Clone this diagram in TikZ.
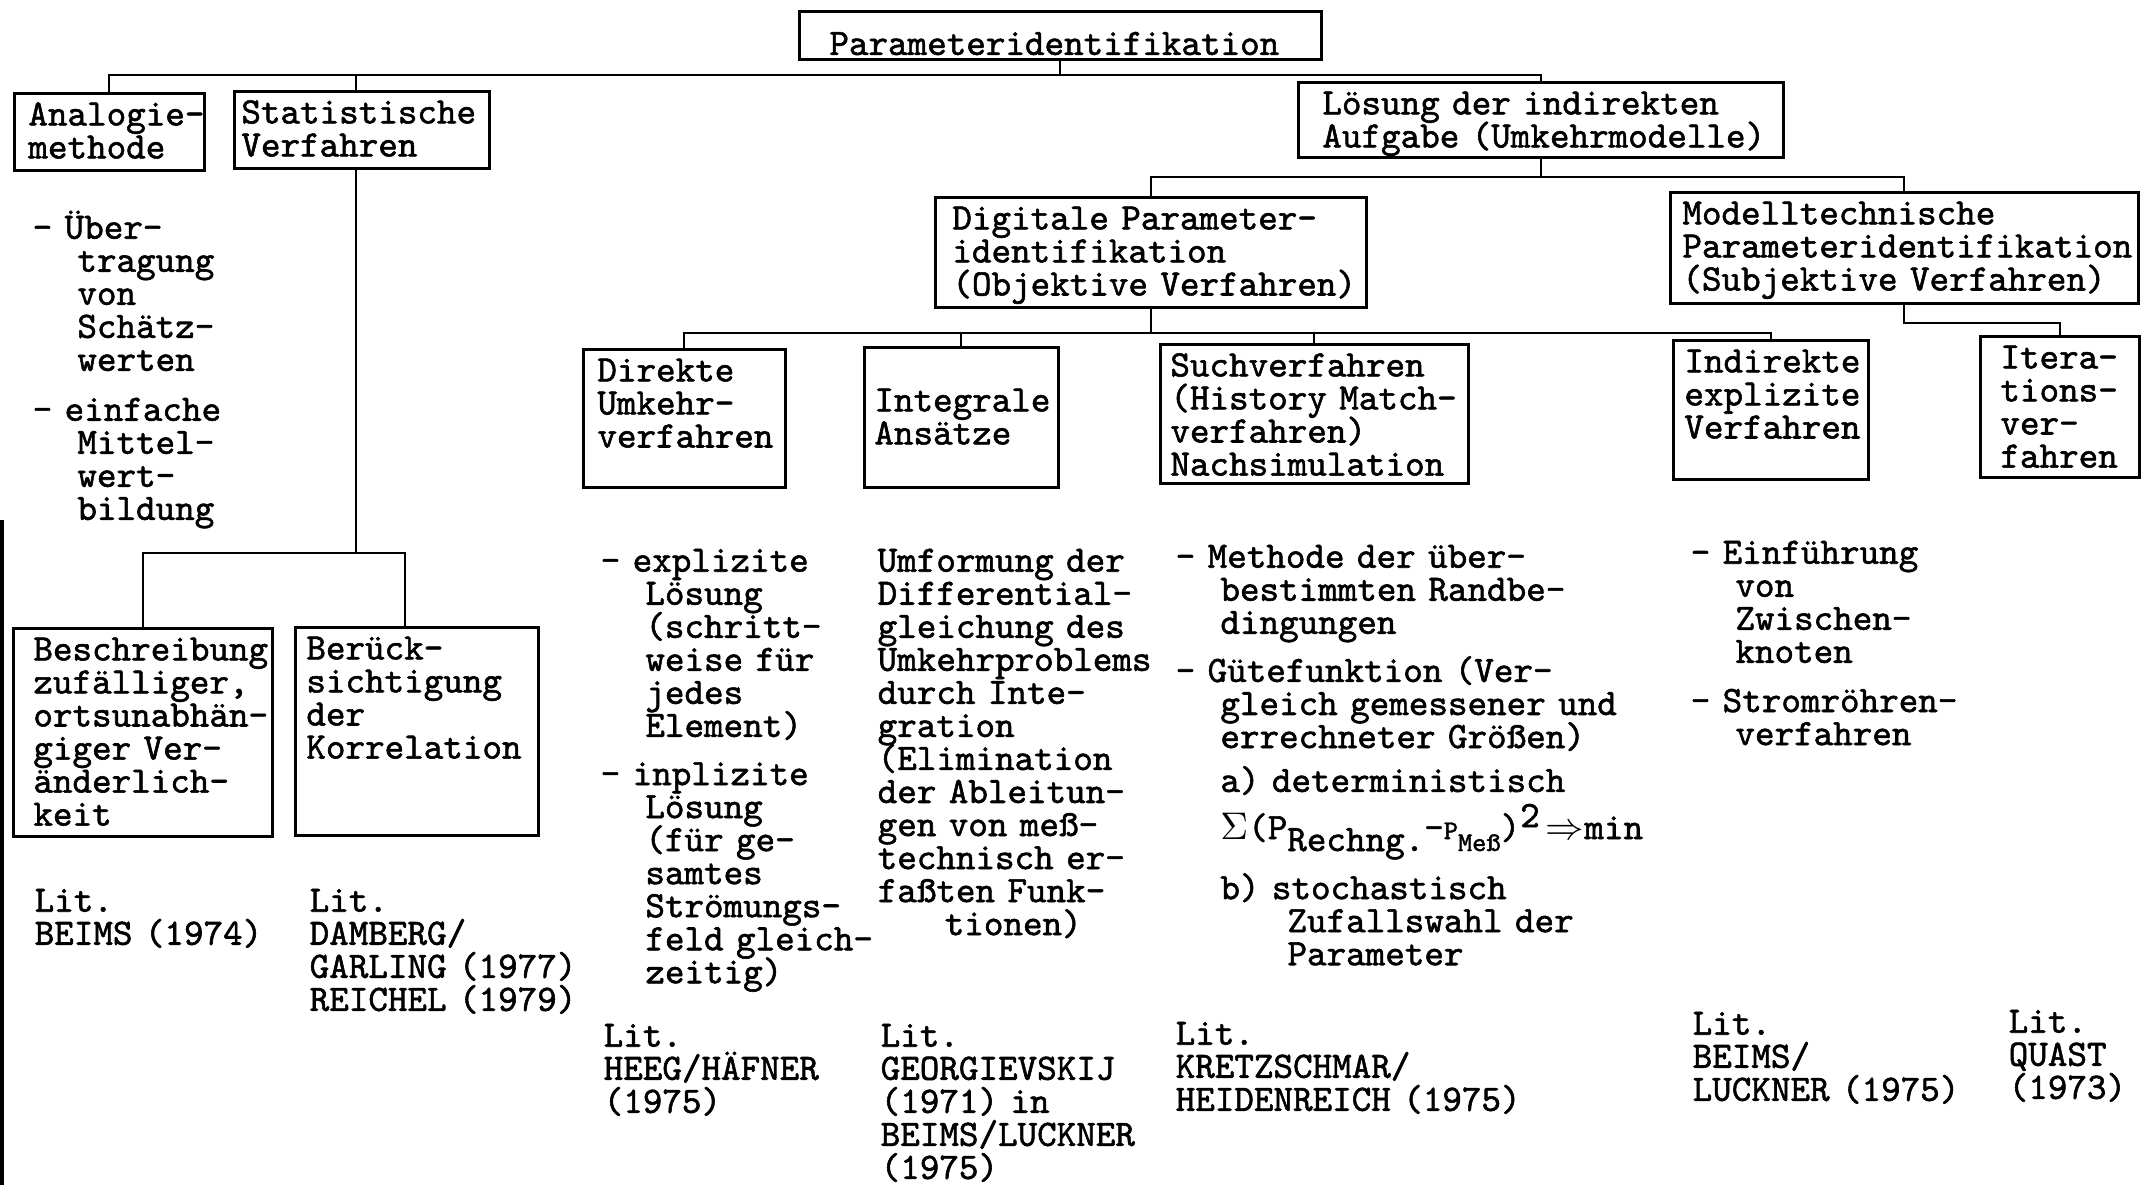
\documentclass[tikz,border=0pt]{standalone}
\usepackage{fontspec}
\usepackage{tikz}
\newfontfamily\tw{lmmono10-regular.otf}[FakeBold=1.5,HyphenChar=None]
\newcommand{\typew}{\tw\fontsize{10.6pt}{9.4pt}\selectfont\lineskiplimit=-20pt\relax}
\newcommand{\subsz}{\fontsize{7.7pt}{7.7pt}\selectfont}
\newcommand{\indt}[1][1.2em]{\hspace*{#1}}
\hyphenpenalty=10000
\exhyphenpenalty=10000

\begin{document}
\begin{tikzpicture}[
    block/.style={draw,line width=0.8pt,anchor=north west,align=left,
      font=\typew,inner ysep=0.1cm,text height=0.22cm},
    note/.style={anchor=north west,align=left,font=\typew,inner sep=0pt,
      text width=4.8cm,text height=0.22cm},
    link/.style={line width=0.6pt}
  ]
  \useasboundingbox (0,0) rectangle (21.45,-11.85);

  % Root
  \node[block,inner xsep=0.30cm,inner ysep=0.045cm,text width=4.62cm,
    text height=0.39cm,text depth=0cm] (param) at (7.98,-0.10)
    {Parameteridentifikation};

  % First level
  \node[block,inner xsep=0.14cm,text width=1.62cm,text depth=0.35cm]
    (analog) at (0.13,-0.92) {Analogie-\\methode};
  \node[block,inner xsep=0.07cm,text width=2.41cm,text depth=0.35cm]
    (stat) at (2.33,-0.90) {Statistische\\Verfahren};
  \node[block,inner xsep=0.24cm,text width=4.37cm,text depth=0.33cm]
    (loesung) at (12.97,-0.81) {Lösung der indirekten\\Aufgabe~(Umkehrmodelle)};

  % Inverse models
  \node[block,inner xsep=0.17cm,text width=3.97cm,text depth=0.68cm]
    (digit) at (9.34,-1.96) {Digitale Parameter-\\identifikation\\(Objektive~Verfahren)};
  \node[block,inner xsep=0.12cm,text width=4.44cm,text depth=0.69cm]
    (modell) at (16.69,-1.91) {Modelltechnische\\Parameteridentifikation\\(Subjektive~Verfahren)};

  % Methods row
  \node[block,inner xsep=0.14cm,text width=1.74cm,text depth=0.96cm]
    (direkt) at (5.82,-3.48) {Direkte\\Umkehr-\\verfahren};
  \node[block,inner xsep=0.10cm,text width=1.74cm,text height=0.54cm,text depth=0.66cm]
    (integ) at (8.63,-3.46) {Integrale\\Ansätze};
  \node[block,inner xsep=0.10cm,text width=2.88cm,text depth=0.97cm]
    (such) at (11.59,-3.43) {Suchverfahren\\(History~Match-\\verfahren)\\Nachsimulation};
  \node[block,inner xsep=0.11cm,text width=1.73cm,text depth=0.97cm]
    (indir) at (16.72,-3.39) {Indirekte\\explizite\\Verfahren};
  \node[block,inner xsep=0.20cm,text width=1.19cm,text depth=0.99cm]
    (itera) at (19.79,-3.35) {Itera-\\tions-\\ver-\\fahren};

  % Statistical branch
  \node[block,inner xsep=0.20cm,text width=2.19cm,text depth=1.66cm]
    (beschr) at (0.12,-6.27) {Beschreibung\\zufälliger,\\ortsunabhän-\\giger Ver-\\änderlich-\\keit};
  \node[block,inner xsep=0.11cm,text width=2.21cm,text depth=1.66cm]
    (beruck) at (2.94,-6.26) {Berück-\\sichtigung\\der\\Korrelation};

  % Tree lines
  \draw[link] (param.south) -- ++(0,-0.14) coordinate (bus0);
  \draw[link] (analog.north) |- (bus0) -| (loesung.north);
  \draw[link] ([xshift=-0.06cm]stat.north) -- ([xshift=-0.06cm]stat.north |- bus0);
  \draw[link] ([xshift=-0.06cm]stat.south) -- ++(0,-3.83) coordinate (bus1);
  \draw[link] (beschr.north) |- (bus1) -| ([xshift=-0.12cm]beruck.north);
  \draw[link] (loesung.south) -- ++(0,-0.18) coordinate (bus2);
  \draw[link] (digit.north) |- (bus2) -| (modell.north);
  \draw[link] (digit.south) -- ++(0,-0.24) coordinate (bus3);
  \draw[link] (direkt.north) |- (bus3) -| (indir.north);
  \draw[link] (integ.north) -- (integ.north |- bus3);
  \draw[link] (such.north) -- (such.north |- bus3);
  \draw[link] (modell.south) -- ++(0,-0.18) -| (itera.north);

  % Notes under the boxes
  \node[note] (n-analog) at (0.32,-2.16)
    {- Über-\\\indt tragung\\\indt von\\\indt Schätz-\\\indt werten\\[4.8pt]
     - einfache\\\indt Mittel-\\\indt wert-\\\indt bildung};
  \node[note] (n-direkt) at (6.00,-5.49)
    {- explizite\\\indt Lösung\\\indt (schritt-\\\indt weise für\\\indt jedes\\\indt Element)\\[4.3pt]
     - inplizite\\\indt Lösung\\\indt (für ge-\\\indt samtes\\\indt Strömungs-\\\indt feld gleich-\\\indt zeitig)};
  \node[note] (n-integ) at (8.77,-5.49)
    {Umformung der\\Differential-\\gleichung des\\Umkehrproblems\\durch Inte-\\gration\\(Elimination\\der Ableitun-\\gen von meß-\\technisch er-\\faßten Funk-\\\indt[1.8em]tionen)};
  \node[note] (n-such) at (11.75,-5.45)
    {- Methode der über-\\\indt bestimmten Randbe-\\\indt dingungen\\[4.3pt]
     - Gütefunktion (Ver-\\\indt gleich gemessener und\\\indt errechneter Größen)\\[3.1pt]
     \indt a) deterministisch\\[4pt]
     \indt $\Sigma$(P\raisebox{-3.4pt}[0pt][0pt]{Rechng.}-{\subsz P}\raisebox{-3.4pt}[0pt][0pt]{\subsz Meß})\raisebox{3.4pt}[0pt][0pt]{2}\,$\Rightarrow$min\\[7.7pt]
     \indt b) stochastisch\\\indt[3em]Zufallswahl der\\\indt[3em]Parameter};
  \node[note] (n-indir) at (16.90,-5.41)
    {- Einführung\\\indt von\\\indt Zwischen-\\\indt knoten\\[4.6pt]
     - Stromröhren-\\\indt verfahren};

  % Literature
  \node[note] (lit-beims) at (0.34,-8.89) {Lit.\\BEIMS (1974)};
  \node[note] (lit-damberg) at (3.09,-8.89) {Lit.\\DAMBERG/\\GARLING (1977)\\REICHEL (1979)};
  \node[note] (lit-heeg) at (6.03,-10.24) {Lit.\\HEEG/HÄFNER\\(1975)};
  \node[note] (lit-georg) at (8.80,-10.24) {Lit.\\GEORGIEVSKIJ\\(1971) in\\BEIMS/LUCKNER\\(1975)};
  \node[note] (lit-kretz) at (11.75,-10.22) {Lit.\\KRETZSCHMAR/\\HEIDENREICH (1975)};
  \node[note] (lit-luckner) at (16.92,-10.12) {Lit.\\BEIMS/\\LUCKNER (1975)};
  \node[note] (lit-quast) at (20.08,-10.10) {Lit.\\QUAST\\(1973)};

  % page edge of the scan
  \draw[line width=1.2pt] (0.02,-5.2) -- (0.02,-11.85);
\end{tikzpicture}
\end{document}
